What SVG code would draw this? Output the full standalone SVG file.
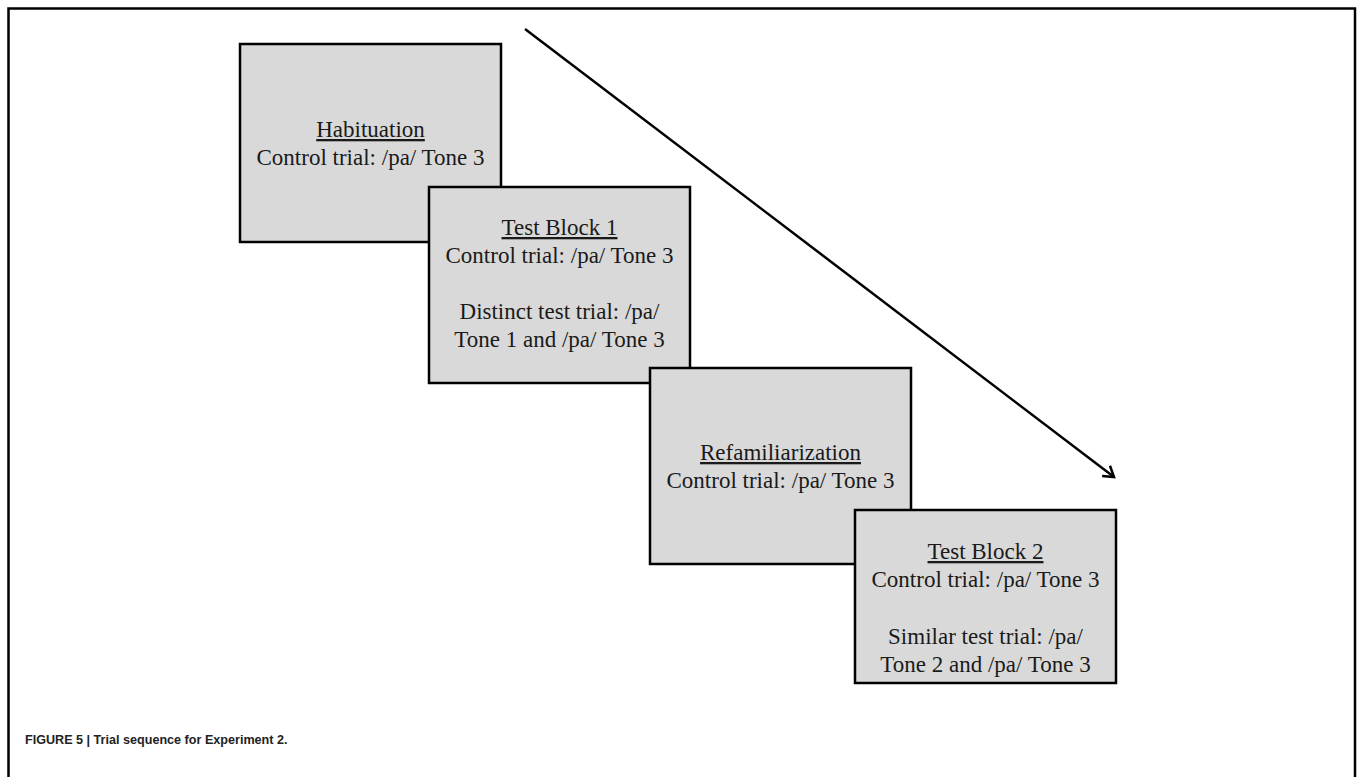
<svg xmlns="http://www.w3.org/2000/svg" width="1358" height="777" viewBox="0 0 1358 777">
<style>
.box{fill:#d9d9d9;stroke:#000;stroke-width:2.5}
.t{font-family:"Liberation Serif","Times New Roman",serif;font-size:23px;fill:#1a1a1a;text-anchor:middle}
.u{text-decoration:underline}
.cap{font-family:"Liberation Sans",Arial,sans-serif;font-size:12.6px;font-weight:bold;fill:#222}
</style>
<defs>
<marker id="ah" markerWidth="16" markerHeight="16" refX="12" refY="8" orient="auto" markerUnits="userSpaceOnUse">
<path d="M2,1.5 L12,8 L2,14.5" fill="none" stroke="#000" stroke-width="2.5"/>
</marker>
</defs>
<rect width="1358" height="777" fill="#fff"/>
<path d="M8.5,777 V8.5 H1355 V777" fill="none" stroke="#000" stroke-width="2.5"/>
<g id="connectors">
<line x1="525" y1="29" x2="1114" y2="477" stroke="#000" stroke-width="2.5" marker-end="url(#ah)"/>
</g>
<g id="habituation">
<rect class="box" x="240" y="44" width="261" height="198"/>
<text class="t u" x="370.5" y="137">Habituation</text>
<text class="t" x="370.5" y="165">Control trial: /pa/ Tone 3</text>
</g>
<g id="testblock1">
<rect class="box" x="429" y="187" width="261" height="196"/>
<text class="t u" x="559.5" y="235">Test Block 1</text>
<text class="t" x="559.5" y="263">Control trial: /pa/ Tone 3</text>
<text class="t" x="559.5" y="319">Distinct test trial: /pa/</text>
<text class="t" x="559.5" y="347">Tone 1 and /pa/ Tone 3</text>
</g>
<g id="refamiliarization">
<rect class="box" x="650" y="368" width="261" height="196"/>
<text class="t u" x="780.5" y="460">Refamiliarization</text>
<text class="t" x="780.5" y="488">Control trial: /pa/ Tone 3</text>
</g>
<g id="testblock2">
<rect class="box" x="855" y="510" width="261" height="173"/>
<text class="t u" x="985.5" y="559">Test Block 2</text>
<text class="t" x="985.5" y="587">Control trial: /pa/ Tone 3</text>
<text class="t" x="985.5" y="644">Similar test trial: /pa/</text>
<text class="t" x="985.5" y="672">Tone 2 and /pa/ Tone 3</text>
</g>
<text class="cap" x="25" y="744">FIGURE 5 | Trial sequence for Experiment 2.</text>
</svg>
